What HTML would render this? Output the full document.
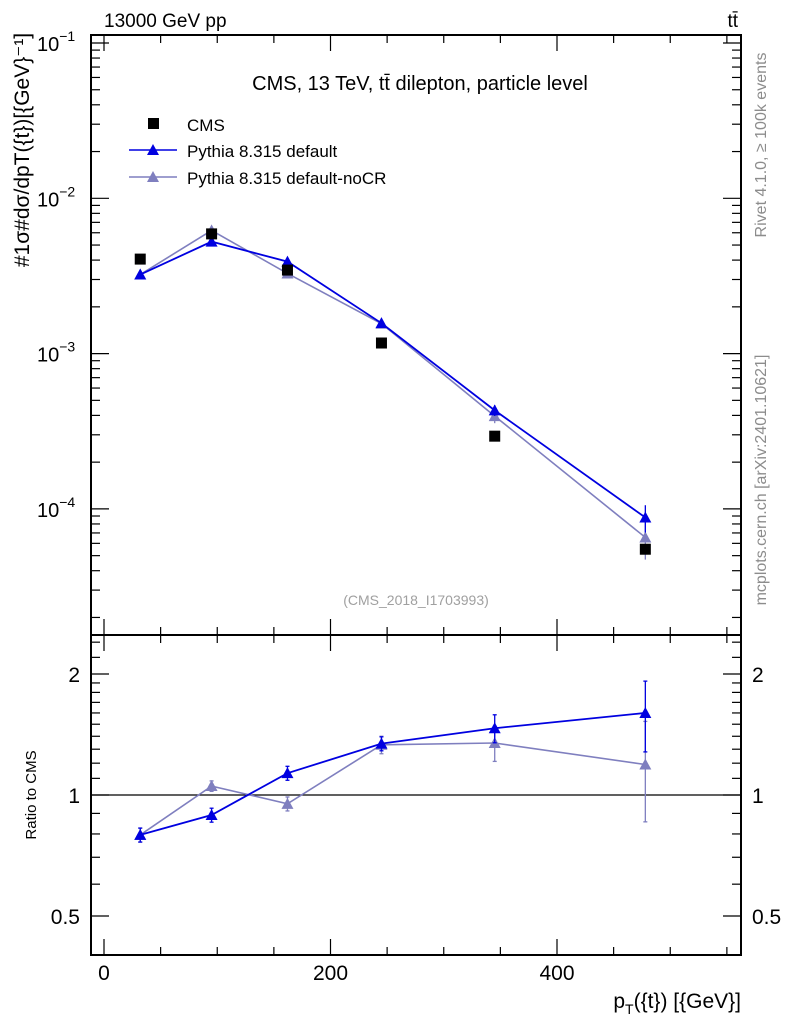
<!DOCTYPE html>
<html><head><meta charset="utf-8"><style>
body{margin:0;background:#fff;width:786px;height:1024px;overflow:hidden}
svg text{font-family:"Liberation Sans",sans-serif}
</style></head><body>
<svg id="chart" width="786" height="1024" viewBox="0 0 786 1024" xmlns="http://www.w3.org/2000/svg">
<g id="g"></g>
</svg>
<script>
const xCenters=[32,95,162,245,345,478];
const cmsVals=[4.06e-3,5.9e-3,3.45e-3,1.17e-3,2.94e-4,5.5e-5];
const defVals=[3.23e-3,5.26e-3,3.91e-3,1.57e-3,4.31e-4,8.8e-5];
const nocrVals=[3.23e-3,6.21e-3,3.28e-3,1.56e-3,3.96e-4,6.55e-5];
const defErr=[0.04,0.04,0.04,0.04,0.08,0.2];
const nocrErr=[0.04,0.03,0.04,0.05,0.1,0.28];
const xTickLabels=[0,200,400];
const mainTickExp=[-1,-2,-3,-4];
const ratioTickLabels=[0.5,1,2];

const NS="http://www.w3.org/2000/svg";
const G=document.getElementById('g');
const L=91,R=741,T1=35,B1=635,T2=635,B2=955;
const xs=v=>104+v*1.1325;
const ly=v=>43-(Math.log10(v)+1)*155.3;
const ry=r=>795-Math.log2(r)*121;
function el(tag,a,parent){const e=document.createElementNS(NS,tag);for(const k in a)e.setAttribute(k,a[k]);(parent||G).appendChild(e);return e;}
function line(x1,y1,x2,y2,c,w,name){const e=el('line',{x1,y1,x2,y2,stroke:c,'stroke-width':w});

return e;}
function txt(x,y,s,size,anchor,fill,name,extra){const e=el('text',Object.assign({x,y,'font-size':size,'text-anchor':anchor||'start',fill:fill||'#000'},extra||{}));e.textContent=s;

return e;}

for(const [t,b,n] of [[T1,B1,'main-frame'],[T2,B2,'ratio-frame']]){
 const r=el('rect',{x:L,y:t,width:R-L,height:b-t,fill:'none',stroke:'#000','stroke-width':2});
 
 
 for(let v=0;v<=550;v+=50){const x=xs(v);const len=v%200==0?16:8;
  line(x,b,x,b-len,'#000',1.2,'x-tick');line(x,t,x,t+len,'#000',1.2,'x-tick');}
}
for(let e=-5;e<=-1;e++){for(let m=1;m<10;m++){const v=m*Math.pow(10,e);const y=ly(v);if(y<T1||y>B1)continue;
 const len=m==1?18:9;line(L,y,L+len,y,'#000',1.2,'y-tick');line(R,y,R-len,y,'#000',1.2,'y-tick');}}
mainTickExp.forEach(e=>{const y=ly(Math.pow(10,e));
 const t=txt(37,y+8,'10',20,'start','#000','y-tick-label');
 const s=el('tspan',{dy:-10,'font-size':14},t);s.textContent='−'+(-e);});
const rt=[0.4,0.5,0.6,0.7,0.8,0.9,1,1.1,1.2,1.3,1.4,1.5,1.6,1.7,1.8,1.9,2,2.2,2.4];
rt.forEach(r=>{const y=ry(r);if(y<T2||y>B2)return;const big=ratioTickLabels.includes(r);const len=big?18:9;
 line(L,y,L+len,y,'#000',1.2,'ratio-y-tick');line(R,y,R-len,y,'#000',1.2,'ratio-y-tick');});
ratioTickLabels.forEach(r=>{const y=ry(r);txt(80,y+8,String(r),21,'end','#000','ratio-y-tick-label');txt(752,y+8,String(r),21,'start','#000','ratio-y-tick-label-right');});
xTickLabels.forEach(v=>txt(xs(v),980,String(v),21,'middle','#000','x-tick-label'));
line(L,ry(1),R,ry(1),'#000',1.3,'ratio-unity-line');

function tri(x,y,c,name){const p=el('polygon',{points:`${x-6},${y+5} ${x+6},${y+5} ${x},${y-6}`,fill:c});

}
function series(vals,errs,c,w,name){
 const pts=vals.map((v,i)=>[xs(xCenters[i]),ly(v)]);
 const pl=el('polyline',{points:pts.map(p=>p.join(',')).join(' '),fill:'none',stroke:c,'stroke-width':w});
 
 
 vals.forEach((v,i)=>{const x=xs(xCenters[i]);
  line(x,ly(v*(1+errs[i])),x,ly(v*(1-errs[i])),c,1.3,name+'-error');tri(x,ly(v),c,name+'-marker');});
 const rs=vals.map((v,i)=>v/cmsVals[i]);
 const rl=el('polyline',{points:rs.map((r,i)=>xs(xCenters[i])+','+ry(r)).join(' '),fill:'none',stroke:c,'stroke-width':w});
 
 
 rs.forEach((r,i)=>{const x=xs(xCenters[i]);const y1=ry(r*(1+errs[i])),y2=ry(r*(1-errs[i]));
  line(x,y1,x,y2,c,1.3,name+'-ratio-error');line(x-2,y1,x+2,y1,c,1.3,'cap');line(x-2,y2,x+2,y2,c,1.3,'cap');
  tri(x,ry(r),c,name+'-ratio-marker');});
}
series(nocrVals,nocrErr,'#7f7fbf',1.6,'pythia-nocr');
series(defVals,defErr,'#0000e0',1.8,'pythia-default');
cmsVals.forEach((v,i)=>{const r=el('rect',{x:xs(xCenters[i])-5.5,y:ly(v)-5.5,width:11,height:11,fill:'#000'});
 
 });

txt(104,27,'13000 GeV pp',19,'start','#000','header-left');
txt(738,27,'tt̄',19,'end','#000','header-right');
txt(420,90,'CMS, 13 TeV, tt̄ dilepton, particle level',20,'middle','#000','plot-title');
txt(416,605,'(CMS_2018_I1703993)',14,'middle','#a0a0a0','analysis-id');
const lg=[['CMS','#000','sq',124],['Pythia 8.315 default','#0000e0','tri',150],['Pythia 8.315 default-noCR','#7f7fbf','tri',177]];
lg.forEach(([s,c,k,y])=>{
 if(k=='sq'){const r=el('rect',{x:148,y:y-6,width:11,height:11,fill:c});}
 else{line(129,y,177,y,c,1.6,'legend-line');tri(153,y,c,'legend-marker');}
 txt(187,y+7,s,17,'start','#000','legend-entry');});
txt(0,0,'#1σ#dσ/dpT({t})[{GeV}⁻¹]',21,'middle','#000','y-axis-title',{transform:'translate(29,150) rotate(-90)'});
txt(0,0,'Ratio to CMS',15,'middle','#000','ratio-y-axis-title',{transform:'translate(36,795) rotate(-90)'});
const xt=txt(741,1008,'',21,'end','#000','x-axis-title');
const a=el('tspan',{},xt);a.textContent='p';const b=el('tspan',{dy:6,'font-size':14},xt);b.textContent='T';const c2=el('tspan',{dy:-6},xt);c2.textContent='({t}) [{GeV}]';
txt(0,0,'Rivet 4.1.0, ≥ 100k events',16,'middle','#8c8c8c','rivet-label',{transform:'translate(766,145) rotate(-90)'});
txt(0,0,'mcplots.cern.ch [arXiv:2401.10621]',16,'middle','#8c8c8c','mcplots-label',{transform:'translate(766,480) rotate(-90)'});
</script>
</body></html>
